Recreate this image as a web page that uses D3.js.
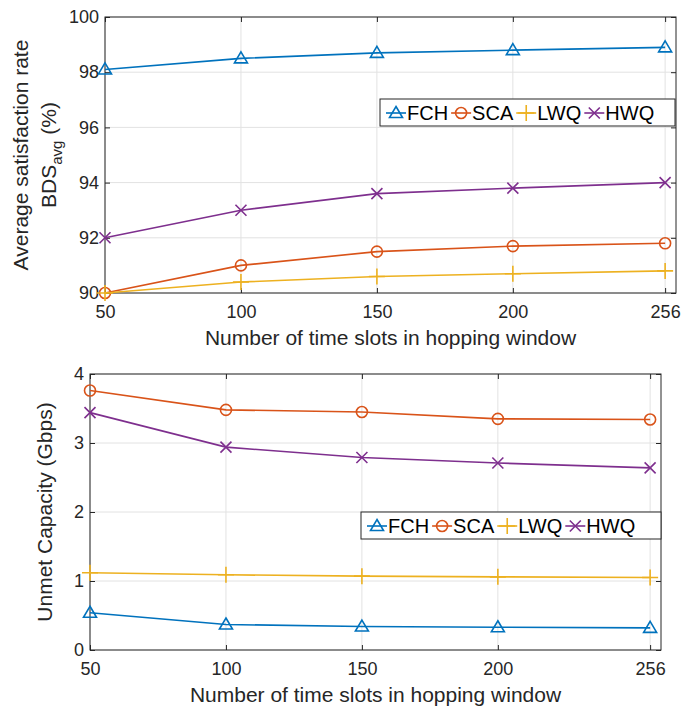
<!DOCTYPE html>
<html>
<head>
<meta charset="utf-8">
<script src="https://cdn.jsdelivr.net/npm/d3@7"></script>
<style>
body { margin: 0; background: #fff; }
text { font-family: "Liberation Sans", Arial, sans-serif; fill: #262626; }
</style>
</head>
<body>
<div id="chart"></div>
<script>
var slots = [50, 100, 150, 200, 256];
var seriesNames = ["FCH", "SCA", "LWQ", "HWQ"];
var colors = ["#0072BD", "#D95319", "#EDB120", "#7E2F8E"];
var markers = ["triangle", "circle", "plus", "cross"];

// top panel: average satisfaction rate (%)
var satFCH = [98.1, 98.5, 98.7, 98.8, 98.9];
var satSCA = [90.0, 91.0, 91.5, 91.7, 91.8];
var satLWQ = [90.0, 90.4, 90.6, 90.7, 90.8];
var satHWQ = [92.0, 93.0, 93.6, 93.8, 94.0];
var satTicks = [90, 92, 94, 96, 98, 100];

// bottom panel: unmet capacity (Gbps)
var capFCH = [0.54, 0.37, 0.34, 0.33, 0.32];
var capSCA = [3.76, 3.48, 3.45, 3.35, 3.34];
var capLWQ = [1.12, 1.09, 1.07, 1.06, 1.05];
var capHWQ = [3.44, 2.94, 2.79, 2.71, 2.64];
var capTicks = [0, 1, 2, 3, 4];

var xLabel = "Number of time slots in hopping window";

var svg = d3.select("#chart").append("svg")
    .attr("width", 694)
    .attr("height", 706);

function markerPath(type) {
    if (type == "triangle") return "M0,-6.5L6.5,4.5L-6.5,4.5Z";
    if (type == "circle") return "M5.5,0A5.5,5.5 0 1,1 -5.5,0A5.5,5.5 0 1,1 5.5,0Z";
    if (type == "plus") return "M0,-8V8M-8,0H8";
    return "M-5.5,-5.5L5.5,5.5M-5.5,5.5L5.5,-5.5";
}

function drawPanel(p) {
    var x = d3.scaleLinear().domain([50, 260]).range([p.left, p.right]);
    var y = d3.scaleLinear().domain(p.yDomain).range([p.bottom, p.top]);
    var g = svg.append("g");

    // grid
    g.selectAll(".vgrid").data(slots).enter().append("line")
        .attr("x1", function(d) { return x(d); })
        .attr("x2", function(d) { return x(d); })
        .attr("y1", p.top).attr("y2", p.bottom)
        .attr("stroke", "#e2e2e2").attr("stroke-width", 1);
    g.selectAll(".hgrid").data(p.yTicks).enter().append("line")
        .attr("y1", function(d) { return y(d); })
        .attr("y2", function(d) { return y(d); })
        .attr("x1", p.left).attr("x2", p.right)
        .attr("stroke", "#e2e2e2").attr("stroke-width", 1);

    // axes with inward ticks
    var xb = g.append("g").attr("transform", "translate(0," + p.bottom + ")")
        .call(d3.axisBottom(x).tickValues(slots).tickSizeInner(-5).tickSizeOuter(0).tickPadding(12));
    var xt = g.append("g").attr("transform", "translate(0," + p.top + ")")
        .call(d3.axisTop(x).tickValues(slots).tickSizeInner(-5).tickSizeOuter(0).tickFormat(""));
    var yl = g.append("g").attr("transform", "translate(" + p.left + ",0)")
        .call(d3.axisLeft(y).tickValues(p.yTicks).tickFormat(d3.format("d"))
            .tickSizeInner(-5).tickSizeOuter(0).tickPadding(6));
    var yr = g.append("g").attr("transform", "translate(" + p.right + ",0)")
        .call(d3.axisRight(y).tickValues(p.yTicks).tickSizeInner(-5).tickSizeOuter(0).tickFormat(""));

    [xb, xt, yl, yr].forEach(function(a) {
        a.select(".domain").remove();
        a.selectAll("line").attr("stroke", "#262626");
        a.selectAll("text").style("font-size", "18px").attr("fill", "#262626")
            .style("font-family", "'Liberation Sans', Arial, sans-serif");
    });

    g.append("rect")
        .attr("x", p.left).attr("y", p.top)
        .attr("width", p.right - p.left).attr("height", p.bottom - p.top)
        .attr("fill", "none").attr("stroke", "#262626").attr("stroke-width", 1);

    // series
    var line = d3.line()
        .x(function(d, i) { return x(slots[i]); })
        .y(function(d) { return y(d); });

    p.series.forEach(function(vals, k) {
        g.append("path")
            .attr("d", line(vals))
            .attr("fill", "none")
            .attr("stroke", colors[k])
            .attr("stroke-width", 1.6);
        g.selectAll(".m" + k).data(vals).enter().append("path")
            .attr("transform", function(d, i) { return "translate(" + x(slots[i]) + "," + y(d) + ")"; })
            .attr("d", markerPath(markers[k]))
            .attr("fill", "none")
            .attr("stroke", colors[k])
            .attr("stroke-width", 1.6);
    });

    // legend
    var lg = g.append("g");
    lg.append("rect")
        .attr("x", p.legX).attr("y", p.legY)
        .attr("width", p.legW).attr("height", 27)
        .attr("fill", "white").attr("stroke", "#262626").attr("stroke-width", 1);
    var cx = p.legX + 6;
    var cy = p.legY + 14;
    seriesNames.forEach(function(name, k) {
        lg.append("line")
            .attr("x1", cx).attr("x2", cx + 20)
            .attr("y1", cy).attr("y2", cy)
            .attr("stroke", colors[k]).attr("stroke-width", 1.6);
        lg.append("path")
            .attr("transform", "translate(" + (cx + 10) + "," + cy + ")")
            .attr("d", markerPath(markers[k]))
            .attr("fill", "none").attr("stroke", colors[k]).attr("stroke-width", 1.6);
        var t = lg.append("text")
            .attr("x", cx + 21).attr("y", cy)
            .attr("dy", "0.36em")
            .style("font-size", "20px")
            .style("fill", "#000")
            .text(name);
        cx += 21 + t.node().getComputedTextLength() + 3;
    });

    // x label
    g.append("text")
        .attr("x", (p.left + p.right) / 2)
        .attr("y", p.xLabelY)
        .style("text-anchor", "middle")
        .style("font-size", "21px")
        .text(xLabel);
}

drawPanel({
    left: 105, right: 676, top: 17, bottom: 293,
    yDomain: [90, 100], yTicks: satTicks,
    series: [satFCH, satSCA, satLWQ, satHWQ],
    legX: 380, legY: 99, legW: 295,
    xLabelY: 345
});

drawPanel({
    left: 90, right: 661, top: 374, bottom: 650,
    yDomain: [0, 4], yTicks: capTicks,
    series: [capFCH, capSCA, capLWQ, capHWQ],
    legX: 361, legY: 512, legW: 300,
    xLabelY: 702
});

// y labels
svg.append("text")
    .attr("transform", "translate(28,155) rotate(-90)")
    .style("text-anchor", "middle")
    .style("font-size", "21px")
    .text("Average satisfaction rate");

var yl2 = svg.append("text")
    .attr("transform", "translate(56,155) rotate(-90)")
    .style("text-anchor", "middle")
    .style("font-size", "21px");
yl2.append("tspan").text("BDS");
yl2.append("tspan").attr("dy", 6).style("font-size", "15px").text("avg");
yl2.append("tspan").attr("dy", -6).text(" (%)");

svg.append("text")
    .attr("transform", "translate(52,512) rotate(-90)")
    .style("text-anchor", "middle")
    .style("font-size", "21px")
    .text("Unmet Capacity (Gbps)");
</script>
</body>
</html>
